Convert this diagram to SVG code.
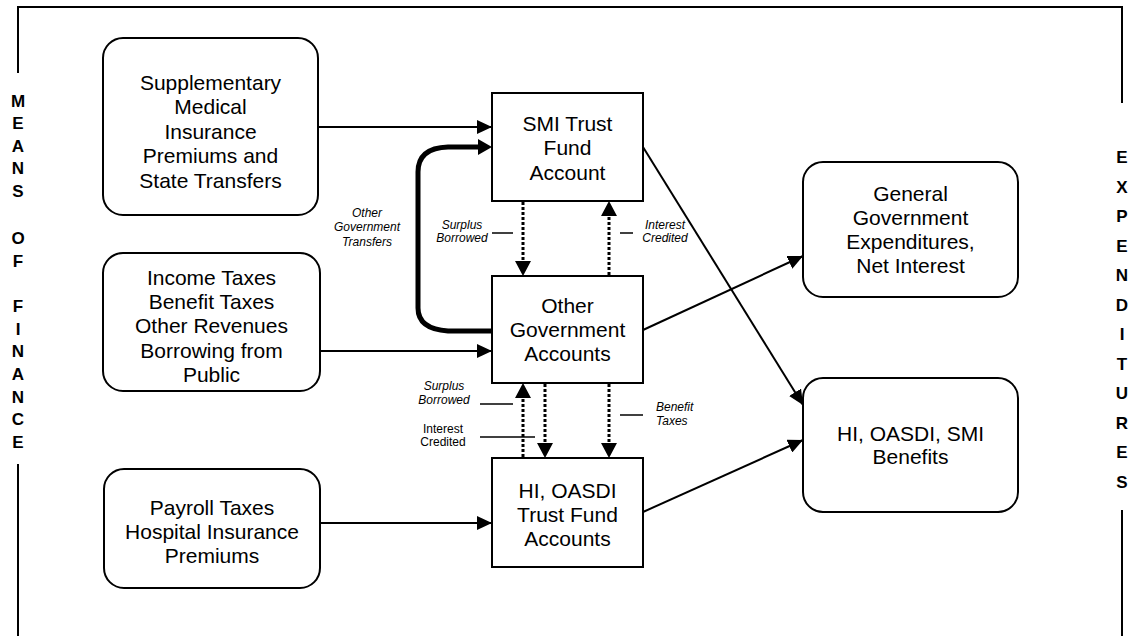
<svg xmlns="http://www.w3.org/2000/svg" width="1138" height="636" viewBox="0 0 1138 636">
<defs>
<style>
.box{fill:#fff;stroke:#000;stroke-width:2}
.t{font-family:"Liberation Sans",Arial,sans-serif;font-size:21px;text-anchor:middle;fill:#000}
.s{font-family:"Liberation Sans",Arial,sans-serif;font-size:12px;text-anchor:middle;fill:#000}
.i{font-style:italic}
.side{font-family:"Liberation Sans",Arial,sans-serif;font-size:17px;font-weight:bold;text-anchor:middle;fill:#000}
.ln{stroke:#000;stroke-width:2;fill:none}
.dot{stroke:#000;stroke-width:3;fill:none;stroke-dasharray:3 2}
.thick{stroke:#000;stroke-width:5;fill:none}
.lead{stroke:#000;stroke-width:1.5}
</style>
<marker id="ah" markerUnits="userSpaceOnUse" markerWidth="16" markerHeight="14" refX="15" refY="7" orient="auto">
<path d="M0,0 L15,7 L0,14 Z" fill="#000"/>
</marker>
</defs>
<g id="frame" class="ln">
<path d="M18,73 V7 H1122 V103"/>
<path d="M18,464 V636"/>
<path d="M1122,510 V636"/>
</g>
<g id="side-left" class="side">
<text x="18" y="107">M</text>
<text x="18" y="129">E</text>
<text x="18" y="152">A</text>
<text x="18" y="174">N</text>
<text x="18" y="197">S</text>
<text x="18" y="244">O</text>
<text x="18" y="267">F</text>
<text x="18" y="312">F</text>
<text x="18" y="335">I</text>
<text x="18" y="357">N</text>
<text x="18" y="380">A</text>
<text x="18" y="403">N</text>
<text x="18" y="425">C</text>
<text x="18" y="448">E</text>
</g>
<g id="side-right" class="side">
<text x="1122" y="163">E</text>
<text x="1122" y="192.5">X</text>
<text x="1122" y="222">P</text>
<text x="1122" y="251.5">E</text>
<text x="1122" y="281">N</text>
<text x="1122" y="310.5">D</text>
<text x="1122" y="340">I</text>
<text x="1122" y="369.5">T</text>
<text x="1122" y="399">U</text>
<text x="1122" y="428.5">R</text>
<text x="1122" y="458">E</text>
<text x="1122" y="487.5">S</text>
</g>
<g id="connectors">
<line class="ln" x1="318" y1="127" x2="492" y2="127" marker-end="url(#ah)"/>
<path class="thick" d="M492,331 L448,331 Q418,329 418,308 L418,172 Q418,148 448,147 L480,147"/>
<path d="M478,139 L492,147 L478,155 Z" fill="#000"/>
<line class="ln" x1="320" y1="351" x2="492" y2="351" marker-end="url(#ah)"/>
<line class="ln" x1="320" y1="523" x2="492" y2="523" marker-end="url(#ah)"/>
<line class="dot" x1="523" y1="202" x2="523" y2="262"/>
<path d="M515,261 L523,276 L531,261 Z"/>
<line class="dot" x1="609" y1="275" x2="609" y2="215"/>
<path d="M601,216 L609,201 L617,216 Z"/>
<line class="dot" x1="523" y1="457" x2="523" y2="397"/>
<path d="M515,398 L523,383 L531,398 Z"/>
<line class="dot" x1="545" y1="384" x2="545" y2="444"/>
<path d="M537,443 L545,458 L553,443 Z"/>
<line class="dot" x1="609" y1="384" x2="609" y2="444"/>
<path d="M601,443 L609,458 L617,443 Z"/>
<line class="ln" x1="643" y1="147" x2="803" y2="405" marker-end="url(#ah)"/>
<line class="ln" x1="643" y1="330" x2="803" y2="256" marker-end="url(#ah)"/>
<line class="ln" x1="643" y1="512" x2="803" y2="440" marker-end="url(#ah)"/>
<line class="lead" x1="492" y1="233" x2="513" y2="233"/>
<line class="lead" x1="620" y1="233" x2="633" y2="233"/>
<line class="lead" x1="480" y1="404" x2="513" y2="404"/>
<line class="lead" x1="480" y1="437" x2="535" y2="437"/>
<line class="lead" x1="620" y1="415" x2="643" y2="415"/>
</g>
<g id="labels">
<text class="s i" x="367" y="217">Other</text>
<text class="s i" x="367" y="231">Government</text>
<text class="s i" x="367" y="246">Transfers</text>
<text class="s i" x="462" y="229">Surplus</text>
<text class="s i" x="462" y="242">Borrowed</text>
<text class="s i" x="665" y="229">Interest</text>
<text class="s i" x="665" y="242">Credited</text>
<text class="s i" x="444" y="390">Surplus</text>
<text class="s i" x="444" y="404">Borrowed</text>
<text class="s" x="443" y="433">Interest</text>
<text class="s" x="443" y="446">Credited</text>
<text class="s i" x="656" y="411" style="text-anchor:start">Benefit</text>
<text class="s i" x="656" y="425" style="text-anchor:start">Taxes</text>
</g>
<g id="n-smi-premiums">
<rect class="box" x="103" y="38" width="215" height="177" rx="20"/>
<text class="t" x="210.5" y="89.5">Supplementary</text>
<text class="t" x="210.5" y="114">Medical</text>
<text class="t" x="210.5" y="138.5">Insurance</text>
<text class="t" x="210.5" y="163">Premiums and</text>
<text class="t" x="210.5" y="187.5">State Transfers</text>
</g>
<g id="n-income">
<rect class="box" x="103" y="253" width="217" height="138" rx="20"/>
<text class="t" x="211.5" y="284.5">Income Taxes</text>
<text class="t" x="211.5" y="308.5">Benefit Taxes</text>
<text class="t" x="211.5" y="333">Other Revenues</text>
<text class="t" x="211.5" y="357.5">Borrowing from</text>
<text class="t" x="211.5" y="381.5">Public</text>
</g>
<g id="n-payroll">
<rect class="box" x="104" y="469" width="216" height="119" rx="20"/>
<text class="t" x="212" y="514.5">Payroll Taxes</text>
<text class="t" x="212" y="538.5">Hospital Insurance</text>
<text class="t" x="212" y="562.5">Premiums</text>
</g>
<g id="n-smi-tf">
<rect class="box" x="492" y="93" width="151" height="108"/>
<text class="t" x="567.5" y="130.5">SMI Trust</text>
<text class="t" x="567.5" y="155">Fund</text>
<text class="t" x="567.5" y="179.5">Account</text>
</g>
<g id="n-other-gov">
<rect class="box" x="492" y="276" width="151" height="107"/>
<text class="t" x="567.5" y="312.5">Other</text>
<text class="t" x="567.5" y="336.5">Government</text>
<text class="t" x="567.5" y="360.5">Accounts</text>
</g>
<g id="n-hi-tf">
<rect class="box" x="492" y="458" width="151" height="109"/>
<text class="t" x="567.5" y="497.5">HI, OASDI</text>
<text class="t" x="567.5" y="521.5">Trust Fund</text>
<text class="t" x="567.5" y="545.5">Accounts</text>
</g>
<g id="n-general">
<rect class="box" x="803" y="162" width="215" height="135" rx="20"/>
<text class="t" x="910.5" y="200.5">General</text>
<text class="t" x="910.5" y="224.5">Government</text>
<text class="t" x="910.5" y="249">Expenditures,</text>
<text class="t" x="910.5" y="272.5">Net Interest</text>
</g>
<g id="n-benefits">
<rect class="box" x="803" y="378" width="215" height="134" rx="20"/>
<text class="t" x="910.5" y="440.5">HI, OASDI, SMI</text>
<text class="t" x="910.5" y="463.5">Benefits</text>
</g>
</svg>
